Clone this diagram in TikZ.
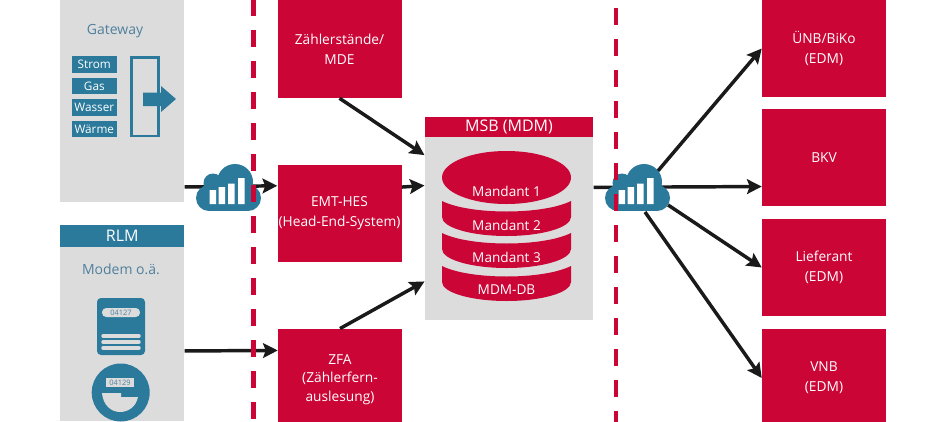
\documentclass[tikz,border=0pt]{standalone}
\usepackage{fontspec}
\setmainfont{Open Sans}
\usetikzlibrary{arrows.meta}
\definecolor{myred}{HTML}{CB0536}
\definecolor{myteal}{HTML}{2B7A9B}
\definecolor{mygray}{HTML}{DCDCDD}
\definecolor{mytext}{HTML}{4F809C}
\definecolor{myblack}{HTML}{1A1A1A}
\tikzset{
  panel/.style={fill=mygray,draw=none,inner sep=0pt,anchor=north west},
  redbox/.style={fill=myred,draw=none,text=white,inner sep=0pt,align=center,minimum width=93pt,font=\fontsize{10.3}{15}\selectfont},
  rightbox/.style={redbox},
  sublabel/.style={text=mytext,inner sep=0pt,font=\fontsize{10.5}{14}\selectfont},
  tag/.style={fill=myteal,text=white,inner sep=0pt,minimum width=33.4pt,minimum height=12.3pt,font=\fontsize{8.8}{10}\selectfont},
  flow/.style={draw=myblack,line width=2.6pt,-{Stealth[length=11pt,width=11pt,inset=2pt]}},
  limit/.style={draw=myred,line width=3.4pt,dash pattern=on 12.75pt off 10.5pt},
  dbtext/.style={text=white,inner sep=0pt,font=\fontsize{10.2}{12}\selectfont},
  tiny/.style={inner sep=0pt,text=mytext,font=\fontsize{5.6}{6}\selectfont}
}
\newcommand{\mycloud}[1]{%
  \begin{scope}[shift={(#1,0)}]
    \fill[myteal] (13,198) circle[radius=13] (17,183) circle[radius=9.5] (39,182) circle[radius=18] (52,198) circle[radius=13];
    \fill[myteal] (13,185) rectangle (52,211);
    \fill[white] (13.5,190) rectangle (20,204) (22.5,187) rectangle (29,204) (32,183.5) rectangle (38.5,204) (42,178) rectangle (48.5,204);
  \end{scope}}
\begin{document}
\begin{tikzpicture}[x=0.75pt,y=-0.75pt]
\useasboundingbox (0,0) rectangle (945,421);
\clip (0,0) rectangle (945,421);
% left panels
\node[panel,minimum width=93pt,minimum height=151.5pt] (gw) at (60,0) {};
\node[sublabel] (gwlabel) at (115,31) {Gateway};
\node[tag] (strom) at (94.3,64.5) {Strom};
\node[tag] (gas) at (94.3,86) {Gas};
\node[tag] (wasser) at (94.3,107.5) {Wasser};
\node[tag] (waerme) at (94.3,129) {Wärme};
\draw[myteal,line width=2.2pt] (131.5,57.5) rectangle (158.5,136);
\fill[myteal] (143,92.5) -- (161,92.5) -- (161,86) -- (176,99) -- (161,112) -- (161,106) -- (143,106) -- cycle;
\node[panel,minimum width=93pt,minimum height=130.5pt] (rlm) at (60,247) {};
\node[fill=myteal,text=white,inner sep=0pt,minimum width=93pt,minimum height=16.5pt,anchor=north west,font=\fontsize{12}{14}\selectfont] (rlmhead) at (60,225) {RLM};
\node[sublabel] (rlmlabel) at (121,269) {Modem o.ä.};
% meter 1
\fill[myteal,rounded corners=3pt] (97,298) rectangle (145,355);
\fill[mygray,rounded corners=3.2pt] (102,308) rectangle (140,317);
\node[tiny] (m1) at (121,312.5) {04127};
\foreach \yy in {336,342,348} \draw[mygray,line width=2.6pt,line cap=round] (103,\yy) -- (139,\yy);
% meter 2
\fill[myteal] (120.7,392.5) circle[radius=29];
\fill[mygray] (106,378) rectangle (134,387);
\node[tiny] (m2) at (120,382.5) {04129};
\fill[mygray] (102,393) -- (121,393) -- (121,397) -- (138,397) .. controls (136,407) and (128,412) .. (120,412) .. controls (111,412) and (103,405) .. (102,393) -- cycle;
% msb
\node[panel,minimum width=126.4pt,minimum height=137pt] (msb) at (424.5,137) {};
\node[fill=myred,text=white,inner sep=0pt,minimum width=126.4pt,minimum height=15pt,anchor=north west,font=\fontsize{12}{14}\selectfont] (msbhead) at (424.5,117) {MSB (MDM)};
% red boxes
\node[redbox,minimum height=73.5pt] (zs) at (339.5,49) {Zählerstände/\\MDE};
\node[redbox,minimum height=73pt] (emt) at (339.5,213.5) {EMT-HES\\(Head-End-System)};
\node[redbox,minimum height=76pt,font=\fontsize{10.3}{14}\selectfont] (zfa) at (340,379.5) {ZFA\\(Zählerfern-\\auslesung)};
\node[rightbox,minimum height=73pt] (unb) at (824,48.5) {ÜNB/BiKo\\(EDM)};
\node[rightbox,minimum height=73pt] (bkv) at (824,157.5) {BKV};
\node[rightbox,minimum height=73pt] (lief) at (824,267.5) {Lieferant\\(EDM)};
\node[rightbox,minimum height=74pt] (vnb) at (824,378) {VNB\\(EDM)};
% cloud anchors
\coordinate (cloudtwoa) at (657,172);
\coordinate (cloudtwob) at (668,205);
\coordinate (cloudtwoc) at (645,212);
% connectors
\draw[flow] (gw.-54) -- (emt.156.7);
\draw[flow] (rlm.-15.3) -- (zfa.155.3);
\draw[flow] (zs.south) -- (msb.139.7);
\draw[flow] (emt.23.3) -- (msb.153.8);
\draw[flow] (zfa.north) -- (msb.212.9);
\draw[flow] (msb.26.2) -- (bkv.205.4);
\draw[flow] (cloudtwoa) -- (unb.west);
\draw[flow] (cloudtwob) -- (lief.west);
\draw[flow] (cloudtwoc) -- (vnb.west);
% clouds
\mycloud{196}
\mycloud{605}
% database
\fill[myred] (506.5,177.5) ellipse[x radius=64.5,y radius=26.5];
\foreach \t in {201,233,266}{
  \fill[myred] (442,\t) .. controls (470,{\t+14}) and (543,{\t+14}) .. (571,\t) -- (571,{\t+16}) arc[start angle=0,end angle=180,x radius=64.5,y radius=19] -- cycle;
}
\node[dbtext] (d1) at (506.5,191) {Mandant 1};
\node[dbtext] (d2) at (506.5,225) {Mandant 2};
\node[dbtext] (d3) at (506.5,257) {Mandant 3};
\node[dbtext] (d4) at (506.5,290) {MDM-DB};
% dashed limits
\coordinate (lima) at (253.3,-1);
\coordinate (limb) at (253.3,425);
\coordinate (limc) at (616,8);
\coordinate (limd) at (616,425);
\draw[limit] (lima) -- (limb);
\draw[limit] (limc) -- (limd);
\end{tikzpicture}
\end{document}
